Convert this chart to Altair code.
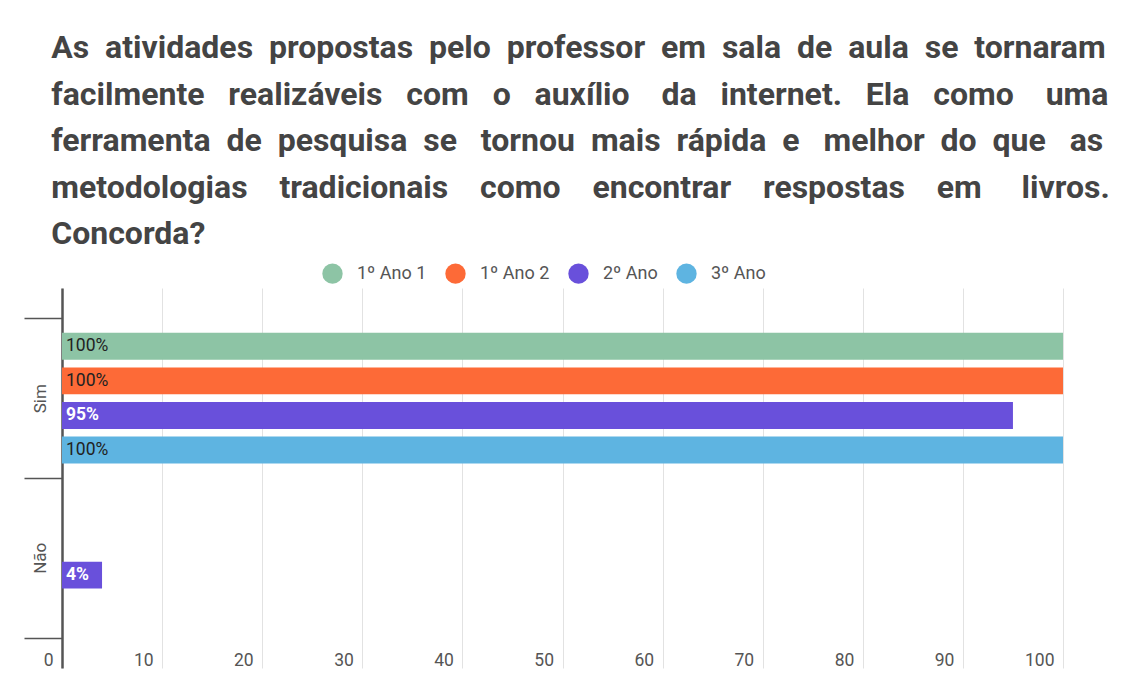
import altair as alt
import pandas as pd

answers = ["Sim", "Não"]
series = ["1º Ano 1", "1º Ano 2", "2º Ano", "3º Ano"]
colors = ["#8DC4A5", "#FD6A37", "#6950DB", "#5EB4E1"]

# values per (answer, series)
sim_values = [100, 100, 95, 100]
nao_values = [None, None, 4, None]

title_lines = [
    "As atividades propostas pelo professor em sala de aula se tornaram",
    "facilmente realizáveis com o auxílio da internet. Ela como uma",
    "ferramenta de pesquisa se tornou mais rápida e melhor do que as",
    "metodologias tradicionais como encontrar respostas em livros.",
    "Concorda?",
]
# extra non-breaking spaces per line to imitate the justified paragraph
title_extra_spaces = [10, 20, 14, 19, 0]


def justify(line, extra):
    words = line.split(" ")
    gaps = len(words) - 1
    if gaps == 0 or extra == 0:
        return line
    out = words[0]
    for i, w in enumerate(words[1:]):
        n = extra * (i + 1) // gaps - extra * i // gaps
        out += " " + "\u00a0" * n + w
    return out


title_text = [justify(l, e) for l, e in zip(title_lines, title_extra_spaces)]

rows = []
for a, vals in zip(answers, [sim_values, nao_values]):
    for s, v in zip(series, vals):
        if v is not None:
            rows.append({"answer": a, "series": s, "value": v})
df = pd.DataFrame(rows)

FONT = "Roboto"

y_enc = alt.Y(
    "answer:N",
    sort=answers,
    scale=alt.Scale(domain=answers, paddingInner=0, paddingOuter=0.19),
    axis=alt.Axis(
        title=None,
        tickBand="extent",
        tickSize=38,
        tickColor="#555555",
        tickWidth=1.5,
        domainColor="#555555",
        domainWidth=2.5,
        labelAngle=270,
        labelAlign="center",
        labelBaseline="middle",
        labelPadding=-16,
        labelFont=FONT,
        labelFontSize=17,
        labelColor="#555555",
        grid=False,
    ),
)
yoff_enc = alt.YOffset(
    "series:N",
    sort=series,
    scale=alt.Scale(domain=series, paddingInner=0.22, paddingOuter=0.42),
)
x_enc = alt.X(
    "value:Q",
    scale=alt.Scale(domain=[0, 100], nice=False),
    axis=alt.Axis(
        title=None,
        values=list(range(0, 101, 10)),
        domain=False,
        ticks=False,
        labelAlign="right",
        labelBaseline="middle",
        labelOffset=-9,
        labelPadding=-8,
        labelFont=FONT,
        labelFontSize=17.5,
        labelColor="#555555",
        gridColor="#E2E2E2",
        gridWidth=1,
    ),
)

base = alt.Chart(df)

bars = base.mark_bar().encode(
    x=x_enc,
    y=y_enc,
    yOffset=yoff_enc,
    color=alt.Color(
        "series:N",
        sort=series,
        scale=alt.Scale(domain=series, range=colors),
        legend=alt.Legend(
            title=None,
            orient="none",
            direction="horizontal",
            legendX=260,
            legendY=-25,
            symbolType="circle",
            symbolSize=415,
            symbolStrokeWidth=0,
            symbolOpacity=1,
            labelFont=FONT,
            labelFontSize=18,
            labelColor="#555555",
            labelOffset=14,
            columnPadding=18,
        ),
    ),
)

dark_labels = (
    base.transform_filter("datum.series != '2º Ano'")
    .transform_calculate(lbl="datum.value + '%'")
    .mark_text(align="left", baseline="middle", dx=4, font=FONT, fontSize=17.5, color="#222222")
    .encode(x=alt.datum(0), y=y_enc, yOffset=yoff_enc, text=alt.Text("lbl:N"))
)
light_labels = (
    base.transform_filter("datum.series == '2º Ano'")
    .transform_calculate(lbl="datum.value + '%'")
    .mark_text(align="left", baseline="middle", dx=4, font=FONT, fontSize=17.5,
               fontWeight="bold", color="#FFFFFF")
    .encode(x=alt.datum(0), y=y_enc, yOffset=yoff_enc, text=alt.Text("lbl:N"))
)

chart = (
    alt.layer(bars, dark_labels, light_labels)
    .properties(
        width=1001,
        height=380,
        autosize=alt.AutoSizeParams(type="none"),
        padding={"left": 54, "top": 280, "right": 52, "bottom": 19},
        title=alt.Title(
            text=title_text,
            anchor="start",
            dx=28,
            offset=12,
            font=FONT,
            fontSize=32,
            fontWeight="bold",
            color="#444444",
            lineHeight=46.5,
        ),
    )
    .configure_view(stroke=None)
)

chart.save("out.html", embed_options={"renderer": "svg", "actions": False})
